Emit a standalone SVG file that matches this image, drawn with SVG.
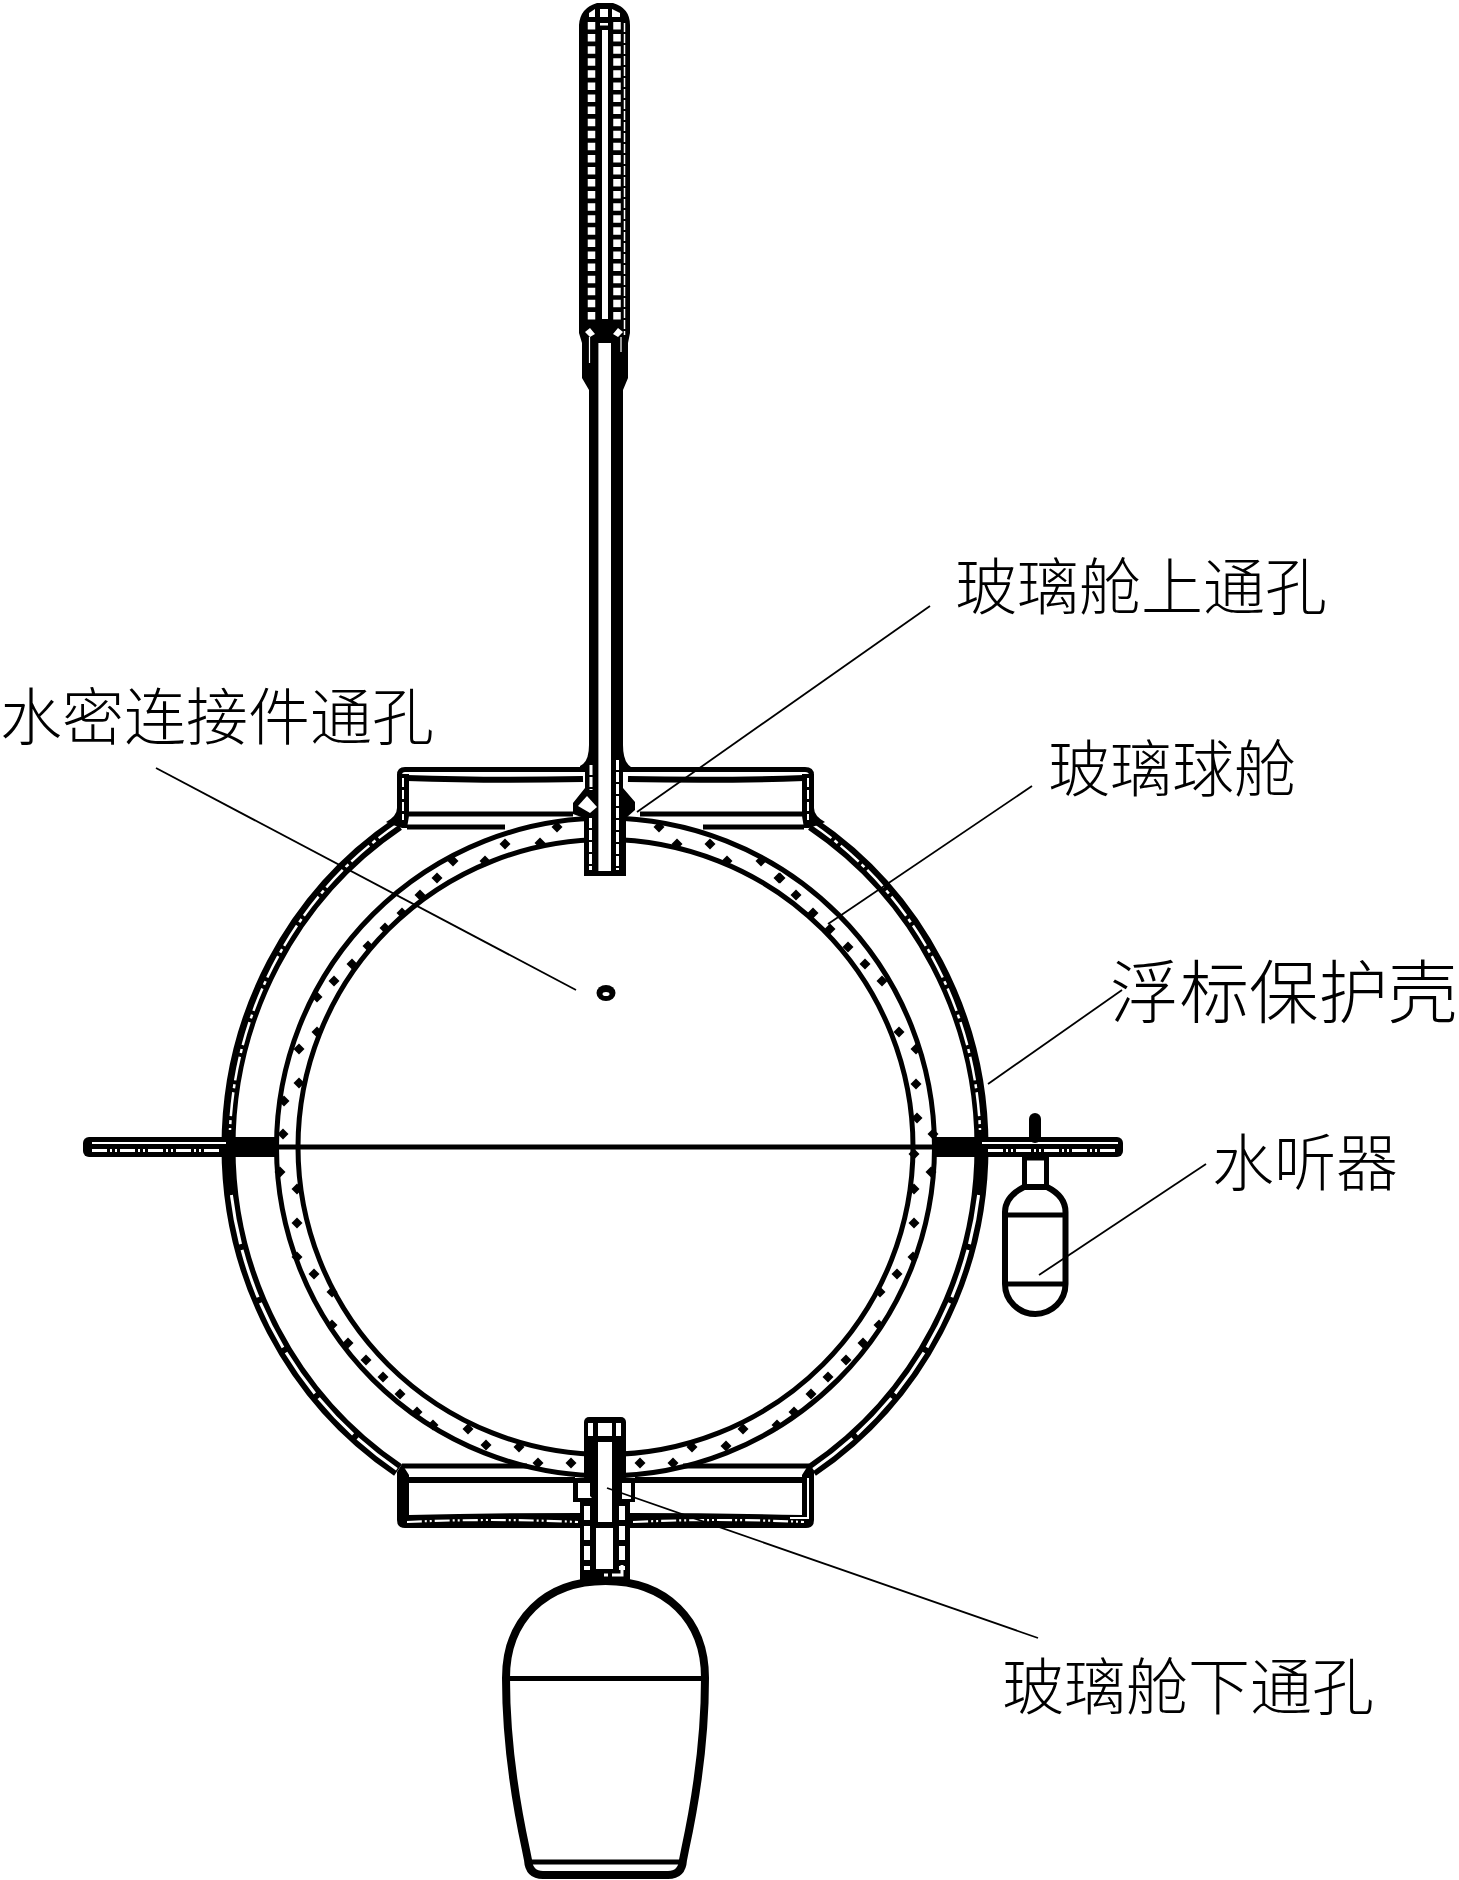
<svg xmlns="http://www.w3.org/2000/svg" width="1459" height="1880" viewBox="0 0 1459 1880">
<style>
.lbl{font-family:"Noto Sans CJK SC","Noto Sans CJK TC",sans-serif;font-size:62px;font-weight:300;fill:#000}
.ln{fill:none;stroke:#000;stroke-linejoin:round}
.w{fill:#fff;stroke:none}
.b{fill:#000;stroke:none}
.ld{fill:none;stroke:#000;stroke-width:1.8}
.sl{fill:none;stroke:#fff}
</style>
<defs><polygon id="d" points="0,-5.5 5.5,0 0,5.5 -5.500,0"/></defs>
<rect width="1459" height="1880" fill="#fff"/>

<g id="glass-sphere">
<circle class="ln" cx="605.5" cy="1147" r="329" stroke-width="5"/>
<circle class="ln" cx="605.5" cy="1147" r="307.5" stroke-width="5"/>
<path class="ln" d="M275 1147H935" stroke-width="5"/>
<g fill="#000">
<use href="#d" x="420" y="895"/><use href="#d" x="402" y="913"/><use href="#d" x="385" y="928"/><use href="#d" x="368" y="946"/><use href="#d" x="352" y="964"/><use href="#d" x="334" y="981"/><use href="#d" x="317" y="997"/><use href="#d" x="317" y="1032"/><use href="#d" x="299" y="1049"/><use href="#d" x="299" y="1083"/><use href="#d" x="284" y="1101"/><use href="#d" x="283" y="1134"/>
<use href="#d" x="280" y="1172"/><use href="#d" x="297" y="1189"/><use href="#d" x="297" y="1223"/><use href="#d" x="297" y="1257"/><use href="#d" x="314" y="1274"/><use href="#d" x="332" y="1292"/><use href="#d" x="332" y="1325"/><use href="#d" x="348" y="1343"/><use href="#d" x="366" y="1360"/><use href="#d" x="383" y="1377"/><use href="#d" x="400" y="1394"/><use href="#d" x="417" y="1412"/>
<use href="#d" x="780" y="878"/><use href="#d" x="796" y="895"/><use href="#d" x="813" y="913"/><use href="#d" x="830" y="929"/><use href="#d" x="848" y="947"/><use href="#d" x="865" y="964"/><use href="#d" x="882" y="981"/><use href="#d" x="899" y="1032"/><use href="#d" x="916" y="1049"/><use href="#d" x="916" y="1084"/><use href="#d" x="917" y="1118"/><use href="#d" x="933" y="1134"/>
<use href="#d" x="914" y="1154"/><use href="#d" x="931" y="1172"/><use href="#d" x="914" y="1189"/><use href="#d" x="914" y="1223"/><use href="#d" x="913" y="1257"/><use href="#d" x="897" y="1274"/><use href="#d" x="880" y="1292"/><use href="#d" x="879" y="1325"/><use href="#d" x="863" y="1343"/><use href="#d" x="846" y="1360"/><use href="#d" x="828" y="1377"/><use href="#d" x="811" y="1394"/><use href="#d" x="794" y="1412"/>
<use href="#d" x="557" y="827"/><use href="#d" x="540" y="843"/><use href="#d" x="505" y="844"/><use href="#d" x="485" y="861"/><use href="#d" x="453" y="861"/><use href="#d" x="437" y="878"/><use href="#d" x="659" y="827"/><use href="#d" x="677" y="844"/><use href="#d" x="710" y="844"/><use href="#d" x="727" y="861"/><use href="#d" x="761" y="861"/><use href="#d" x="779" y="878"/>
<use href="#d" x="433" y="1425"/><use href="#d" x="468" y="1429"/><use href="#d" x="486" y="1445"/><use href="#d" x="519" y="1447"/><use href="#d" x="538" y="1463"/><use href="#d" x="571" y="1463"/><use href="#d" x="640" y="1463"/><use href="#d" x="673" y="1463"/><use href="#d" x="692" y="1447"/><use href="#d" x="726" y="1446"/><use href="#d" x="743" y="1429"/><use href="#d" x="777" y="1425"/>
</g>
</g>

<g id="buoy-shell">
<path class="ln" stroke-width="14" d="M398 824A376.5 386.5 0 0 0 228.5 1147A376.5 386.5 0 0 0 398 1470"/>
<path class="ln" stroke-width="14" d="M812 824A376.5 386.5 0 0 1 981.5 1147A376.5 386.5 0 0 1 812 1470"/>
<path class="sl" stroke-width="2.5" stroke-dasharray="24 4 4 4" d="M398 824A376.5 386.5 0 0 0 230 1130"/>
<path class="sl" stroke-width="2.5" stroke-dasharray="24 4 4 4" d="M812 824A376.5 386.5 0 0 1 980 1130"/>
<path class="sl" stroke-width="3" stroke-dasharray="50 6" d="M231.4 1195A376.5 386.5 0 0 0 398 1470"/>
<path class="sl" stroke-width="3" stroke-dasharray="50 6" d="M978.6 1195A376.5 386.5 0 0 1 812 1470"/>
</g>

<g id="mid-flange">
<rect class="b" x="83" y="1137" width="150" height="20" rx="6"/>
<rect class="b" x="977" y="1137" width="146" height="20" rx="6"/>
<rect class="b" x="230" y="1137" width="46" height="20"/>
<rect class="b" x="935" y="1137" width="46" height="20"/>
<path class="sl" stroke-width="2" d="M92 1143H226M982 1143H1118"/>
<path class="sl" stroke-width="3" stroke-dasharray="15 3 2 3 2 3" d="M92 1150.5H222M988 1150.5H1118"/>
</g>

<g id="top-collar">
<path class="ln" stroke-width="5" d="M583 769.5H405Q399.500 769.500 399.500 775M627 769.500H805Q811.500 769.500 811.500 775"/>
<path class="ln" stroke-width="6" d="M407 778Q490 781 583 779M804 778Q721 781 628 779"/>
<path class="b" d="M397 774H409V816L407 828H402L390 824L386 822Q397 816 397 808Z"/>
<path class="b" d="M814 774H802V816L804 828H809L821 824L825 822Q814 816 814 808Z"/>
<path class="sl" stroke-width="2" stroke-dasharray="9 3" d="M403 778V820M808 778V820"/>
<path class="ln" stroke-width="5" d="M409 814H573M802 814H640M407 827H505M804 827H703"/>
</g>

<g id="bottom-collar">
<path class="ln" stroke-width="5" d="M402 1466H527M809 1466H683"/>
<path class="ln" stroke-width="6" d="M409 1480H575M802 1480H635"/>
<path class="b" d="M397 1472L402 1464L409 1475V1515Q490 1513 580 1513V1528H405Q397 1528 397 1520Z"/>
<path class="b" d="M814 1472L809 1464L802 1475V1515Q720 1513 630 1513V1528H806Q814 1528 814 1520Z"/>
<path class="sl" stroke-width="2.200" stroke-dasharray="15 3 2 3 2 3" d="M407 1522Q490 1518 578 1522M633 1522Q720 1518 804 1522"/>
<path class="sl" stroke-width="2" d="M808 1478V1518H790"/>
</g>

<g id="top-mast">
<path class="b" d="M579 25Q580 8 597 3H613Q630 8 630 25V333L628 343V378L623 390V745Q623 762 631 767V772H623V788L635 802V810L626 818V876H584V818L573 814V803L585 788V772H580V766Q589 762 589 745V390L582 378V343L579 333Z"/>
<path class="sl" stroke-width="7.500" stroke-dasharray="7.500 4.580" d="M591.500 22V320M617 22V320"/>
<path class="w" d="M589 17V13L595 9V17ZM600 9H608V17H600ZM612 9L620 13V17H612ZM600 23H608V25.500H600ZM602 30H608V319H602Z"/>
<path class="sl" stroke-width="1.500" stroke-dasharray="9 2" d="M624.500 23V335"/>
<path class="w" d="M585 332L590 328L595 334L590 337ZM623 332L618 328L613 334L618 337Z"/>
<path class="sl" stroke-width="1.200" d="M589.500 337V363M621 337V352"/>
<rect class="w" x="598" y="343" width="13" height="528"/>
<rect x="598" y="343" width="1" height="528" fill="#999"/>
<path class="w" d="M578 806L587 796L597 807L590 813Z"/>
<path class="sl" stroke-width="3" stroke-dasharray="10 2" d="M617.500 760V870M590.500 818V870M591 765V790"/>
</g>

<g id="bottom-stem">
<rect class="b" x="584" y="1417" width="42" height="65" rx="5"/>
<rect class="b" x="573" y="1478" width="62" height="24"/>
<rect class="b" x="580" y="1500" width="50" height="80"/>
<path class="w" d="M588 1423H593V1436H588ZM598 1423H612V1436H598ZM616 1423H621V1436H616ZM598 1442H612V1522H598Z"/>
<path class="w" d="M578 1483H590V1496L592 1498H578ZM622 1483H631V1499H622Z"/>
<path class="w" d="M596 1528H613V1569H596Z"/>
<path class="sl" stroke-width="6" stroke-dasharray="14 6" d="M587 1506V1570M622 1506V1570"/>
<path class="sl" stroke-width="3" d="M604 1575H608M612 1575H622V1565"/>
</g>

<g id="bottom-float">
<path class="ln" stroke-width="8" style="fill:#fff" d="M506 1678C506 1620 545 1581 605.500 1581C666 1581 705 1620 705 1678C705 1730 698 1790 685 1850L683 1860Q682 1875 668 1875H543Q529 1875 528 1860L526 1850C513 1790 506 1730 506 1678Z"/>
<path class="ln" stroke-width="5" d="M506 1678.500H705M530 1862H681"/>
</g>

<g id="hydrophone">
<rect class="b" x="1029" y="1113" width="12" height="30" rx="6"/>
<path class="ln" stroke-width="5" d="M1024.500 1157V1187M1046.500 1157V1187M1022 1158H1049"/>
<path class="ln" stroke-width="6" d="M1005 1212C1005 1200 1014 1192 1024 1187H1047C1057 1192 1065.500 1200 1065.500 1212V1284A30.250 30 0 0 1 1005 1284Z"/>
<path class="ln" stroke-width="5" d="M1005 1215H1065M1005 1284H1065"/>
</g>

<g id="connector-hole">
<ellipse cx="606" cy="993" rx="9.500" ry="8" fill="#000"/>
<ellipse cx="606" cy="994" rx="3.500" ry="2" fill="#fff"/>
</g>

<g id="connectors">
<path class="ld" d="M930 606L637 812"/>
<path class="ld" d="M156 768L576 990"/>
<path class="ld" d="M1032 786L828 924"/>
<path class="ld" d="M1122 990L988 1084"/>
<path class="ld" d="M1206 1164L1039 1275"/>
<path class="ld" d="M1038 1638L607 1488"/>
</g>

<g id="labels">
<text class="lbl" x="955" y="610">玻璃舱上通孔</text>
<text class="lbl" x="0" y="740">水密连接件通孔</text>
<text class="lbl" x="1048" y="792">玻璃球舱</text>
<text class="lbl" x="1110" y="1018" style="font-size:69.500px">浮标保护壳</text>
<text class="lbl" x="1212" y="1186">水听器</text>
<text class="lbl" x="1002" y="1710">玻璃舱下通孔</text>
</g>
</svg>
